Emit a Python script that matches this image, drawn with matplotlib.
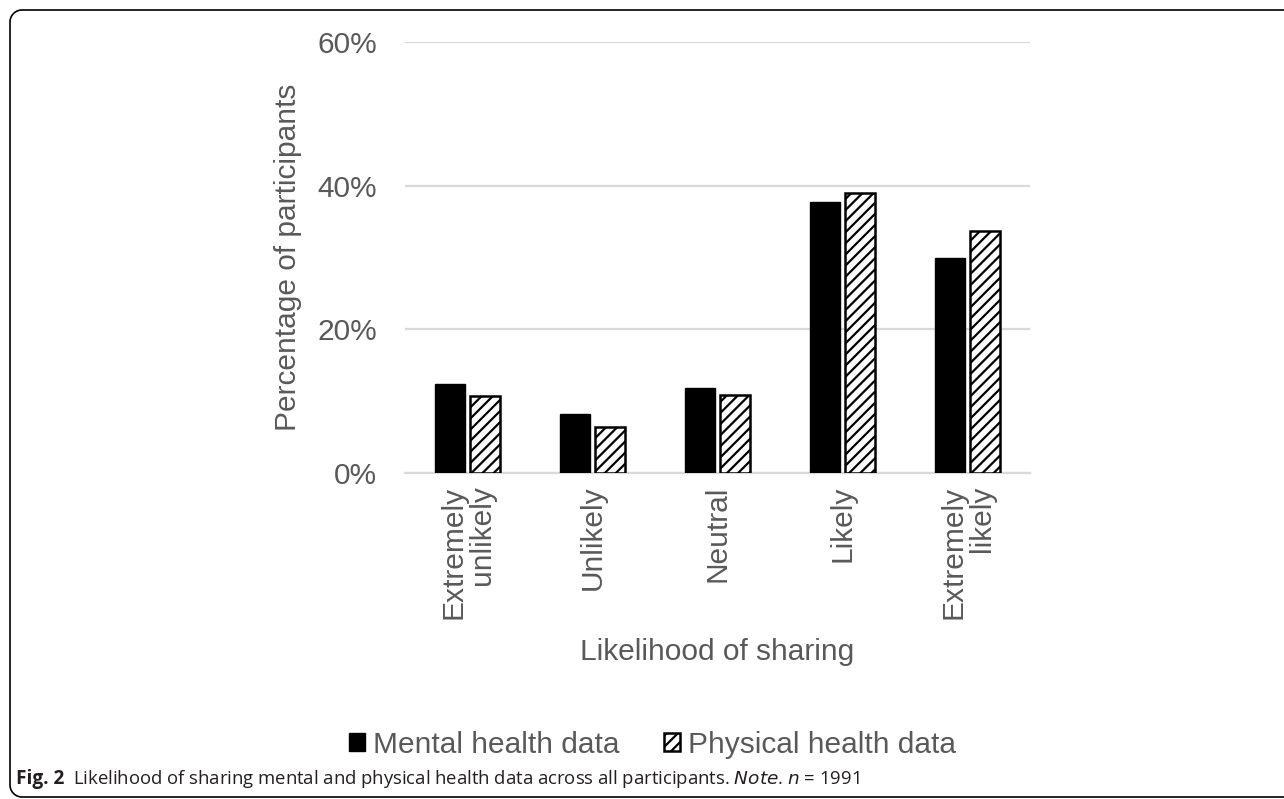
import numpy as np
import matplotlib.pyplot as plt
from matplotlib.patches import Patch
from matplotlib.lines import Line2D

# values (percent of participants)
categories = ['Extremely\nunlikely', 'Unlikely', 'Neutral', 'Likely', 'Extremely\nlikely']
mental = [12.4, 8.2, 11.8, 37.7, 29.9]
physical = [10.7, 6.4, 10.9, 39.0, 33.7]
yticks = [0, 20, 40, 60]

grey = '#595959'
plt.rcParams['font.family'] = ['Liberation Sans', 'DejaVu Sans']
plt.rcParams['hatch.linewidth'] = 1.6

fig = plt.figure(figsize=(12.84, 7.99), dpi=100)
ax = fig.add_axes([0.3154, 0.408, 0.4868, 0.5394])

x = np.arange(len(categories))
w = 0.245
ax.bar(x - 0.14, mental, w, color='black', edgecolor='black', zorder=3)
ax.bar(x + 0.14, physical, w, color='white', edgecolor='black', hatch='///', linewidth=1.8, zorder=3)

ax.set_xlim(-0.5, 4.5)
ax.set_ylim(0, 60)
ax.set_yticks(yticks)
ax.set_yticklabels([f'{v}%' for v in yticks])
ax.yaxis.grid(True, color='#d9d9d9', linewidth=1.6, zorder=0)
for s in ['top', 'right', 'left']:
    ax.spines[s].set_visible(False)
ax.spines['bottom'].set_color('#d9d9d9')
ax.spines['bottom'].set_linewidth(1.6)
ax.tick_params(axis='both', length=0, labelsize=21.5, labelcolor=grey)
ax.tick_params(axis='y', pad=20)
ax.tick_params(axis='x', pad=9)
ax.set_xticks(x)
ax.set_xticklabels(categories, rotation=90, ha='center', va='top', ma='right', linespacing=1.02)

ax.set_ylabel('Percentage of participants', fontsize=21.5, color=grey, labelpad=11)
ax.set_xlabel('Likelihood of sharing', fontsize=21.5, color=grey, labelpad=14)

handles = [Patch(facecolor='black', edgecolor='black'),
           Patch(facecolor='white', edgecolor='black', hatch='///', linewidth=1.8)]
fig.legend(handles, ['Mental health data', 'Physical health data'], loc='center',
           bbox_to_anchor=(0.508, 0.068), ncol=2, frameon=False, fontsize=21.5,
           labelcolor=grey, handlelength=0.55, handleheight=0.55, handletextpad=0.25,
           columnspacing=1.5)

# open frame of the figure panel: top, left and bottom edges, rounded corners (pixels)
W, H = 1284, 799
top, bot, left, r = 789, 2, 10, 12
t1 = np.linspace(np.pi / 2, np.pi, 12)
t2 = np.linspace(np.pi, 1.5 * np.pi, 12)
fx = np.concatenate([[W + 5], left + r + r * np.cos(t1), left + r + r * np.cos(t2), [W + 5]])
fy = np.concatenate([[top], top - r + r * np.sin(t1), bot + r + r * np.sin(t2), [bot]])
fig.add_artist(Line2D(fx / W, fy / H, transform=fig.transFigure, color='black', linewidth=1.2))

cap_y = 1 - 779 / 799
fig.text(16 / 1284, cap_y, 'Fig. 2', fontsize=13.7, fontweight='bold',
         family='Open Sans', va='center', ha='left', color='#231f20')
fig.text(73 / 1284, cap_y,
         'Likelihood of sharing mental and physical health data across all participants. '
         r'$\it{Note}$. $n$ = 1991',
         fontsize=13.3, family='Open Sans', va='center', ha='left', color='#231f20')

fig.savefig('out.png', dpi=100)
